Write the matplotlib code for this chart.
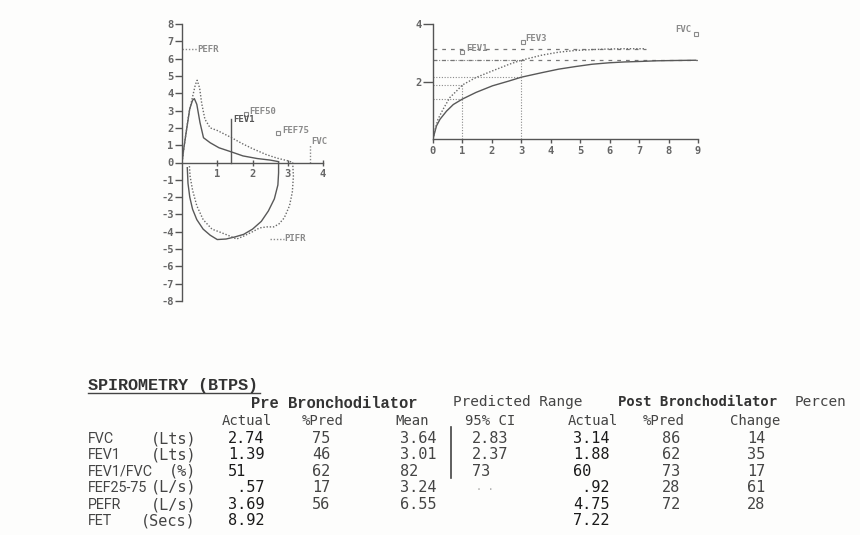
import matplotlib.pyplot as plt
from matplotlib.lines import Line2D

# flow-volume loop, pre bronchodilator (solid)
pre_exp_vol = [0, 0.05, 0.13, 0.22, 0.30, 0.35, 0.42, 0.51, 0.61, 0.80, 1.05, 1.39, 1.73, 2.13, 2.50, 2.74]
pre_exp_flow = [0, 0.8, 1.9, 3.1, 3.6, 3.69, 3.36, 2.31, 1.43, 1.14, 0.85, 0.62, 0.38, 0.23, 0.14, 0.05]
pre_insp_vol = [2.74, 2.74, 2.72, 2.62, 2.45, 2.25, 2.0, 1.75, 1.5, 1.25, 1.0, 0.8, 0.6, 0.42, 0.3, 0.22, 0.17, 0.15]
pre_insp_flow = [0, -0.6, -1.3, -2.1, -2.8, -3.4, -3.85, -4.15, -4.3, -4.42, -4.45, -4.2, -3.85, -3.3, -2.7, -2.0, -1.2, -0.3]

# flow-volume loop, post bronchodilator (dotted)
post_exp_vol = [0, 0.1, 0.2, 0.3, 0.38, 0.43, 0.5, 0.56, 0.65, 0.8, 1.0, 1.39, 1.7, 2.0, 2.4, 2.7, 3.0, 3.14]
post_exp_flow = [0, 1.5, 2.9, 3.8, 4.5, 4.75, 4.3, 3.4, 2.5, 2.0, 1.85, 1.45, 1.1, 0.8, 0.45, 0.25, 0.1, 0]
post_insp_vol = [3.14, 3.16, 3.13, 3.05, 2.9, 2.75, 2.6, 2.4, 2.2, 2.0, 1.75, 1.55, 1.3, 1.05, 0.85, 0.6, 0.42, 0.3, 0.23, 0.21]
post_insp_flow = [0, -0.8, -1.7, -2.5, -3.2, -3.55, -3.72, -3.72, -3.78, -4.0, -4.25, -4.42, -4.2, -4.0, -3.85, -3.3, -2.5, -1.6, -0.8, -0.2]

# volume-time curves
pre_t = [0, 0.05, 0.12, 0.24, 0.46, 0.69, 1.0, 1.46, 2.02, 2.59, 3.0, 3.71, 4.27, 4.84, 5.4, 5.97, 6.5, 7.1, 7.6, 8.2, 8.92]
pre_v = [0, 0.2, 0.46, 0.69, 0.97, 1.2, 1.39, 1.62, 1.85, 2.02, 2.15, 2.31, 2.43, 2.52, 2.6, 2.65, 2.68, 2.7, 2.72, 2.73, 2.74]
post_t = [0, 0.06, 0.17, 0.34, 0.57, 0.8, 1.0, 1.46, 2.02, 2.59, 3.0, 3.71, 4.27, 4.84, 5.4, 5.97, 6.5, 7.22]
post_v = [0, 0.29, 0.69, 1.03, 1.44, 1.67, 1.88, 2.14, 2.37, 2.6, 2.74, 2.92, 3.02, 3.08, 3.11, 3.13, 3.14, 3.14]

# table
row_names = ['FVC', 'FEV1', 'FEV1/FVC', 'FEF25-75', 'PEFR', 'FET']
row_units = ['(Lts)', '(Lts)', '(%)', '(L/s)', '(L/s)', '(Secs)']
pre_actual = ['2.74', '1.39', '51', ' .57', '3.69', '8.92']
pre_pred = ['75', '46', '62', '17', '56', '']
pred_mean = ['3.64', '3.01', '82', '3.24', '6.55', '']
pred_ci = ['2.83', '2.37', '73', '', '', '']
post_actual = ['3.14', '1.88', '60', ' .92', '4.75', '7.22']
post_pred = ['86', '62', '73', '28', '72', '']
post_change = ['14', '35', '17', '61', '28', '']

# predicted markers
pefr_pred = 6.55
fvc_pred = 3.64
fev1_pred = 3.01
fev3_pred = 3.36
fev1_pre = 1.39
fev3_pre = 2.15
fev1_post = 1.88
fev3_post = 2.74
fvc_pre = 2.74
fvc_post = 3.14
fet_pre = 8.92
fet_post = 7.22

W, H = 860, 535
mono = 'DejaVu Sans Mono'
axc = '#555555'
solid_c = '#585858'
dot_c = '#6a6a6a'
lab_c = '#8a8a8a'
dots = (0, (1, 1.3))

fig = plt.figure(figsize=(8.6, 5.35), dpi=100)
fig.patch.set_facecolor('#fdfdfc')


def box(x0, x1, y0, y1):
    # pixel box -> figure fractions
    return [x0 / W, 1 - y1 / H, (x1 - x0) / W, (y1 - y0) / H]


def put(x, y, s, **kw):
    kw.setdefault('family', mono)
    kw.setdefault('size', 11)
    kw.setdefault('color', '#444444')
    fig.text(x / W, 1 - y / H, s, va='baseline', **kw)


def style_ticks(ax):
    for t in ax.get_xticklabels() + ax.get_yticklabels():
        t.set_family(mono)
        t.set_weight('bold')


# ---- flow-volume loop ----
ax1 = fig.add_axes(box(182, 323, 24, 301))
ax1.patch.set_alpha(0)
ax1.set_xlim(0, 4)
ax1.set_ylim(-8, 8)
for s in ['top', 'right']:
    ax1.spines[s].set_visible(False)
ax1.spines['bottom'].set_position(('data', 0))
for s in ['left', 'bottom']:
    ax1.spines[s].set_color(axc)
    ax1.spines[s].set_linewidth(1.0)
yt = list(range(-8, 9))
ax1.set_yticks(yt, labels=[str(v) for v in yt])
ax1.set_xticks([1, 2, 3, 4], labels=['1', '2', '3', '4'])
ax1.tick_params(axis='y', direction='out', length=5, width=1, color=axc, pad=1,
                labelsize=7.5, labelcolor='#666666')
ax1.tick_params(axis='x', direction='inout', length=5, width=1, color=axc, pad=2,
                labelsize=7.5, labelcolor='#666666')
style_ticks(ax1)

ax1.plot(pre_exp_vol, pre_exp_flow, color=solid_c, lw=1)
ax1.plot(pre_insp_vol, pre_insp_flow, color=solid_c, lw=1)
ax1.plot(post_exp_vol, post_exp_flow, color=dot_c, lw=1, ls=dots)
ax1.plot(post_insp_vol, post_insp_flow, color=dot_c, lw=1, ls=dots)

lk = dict(family=mono, size=6.5, weight='bold', color=lab_c, clip_on=False)
ax1.plot([0, 0.42], [pefr_pred, pefr_pred], color=lab_c, lw=1, ls=dots)
ax1.text(0.44, pefr_pred, 'PEFR', va='center', **lk)
ax1.plot([fev1_pre, fev1_pre], [0, 2.5], color=solid_c, lw=1)
ax1.text(fev1_pre + 0.05, 2.5, 'FEV1', va='center', family=mono, size=6.5,
         weight='bold', color='#555555')
ax1.plot([fvc_pred * 0.5], [2.78], marker='s', ms=3, mfc='none', mec=lab_c, mew=0.8)
ax1.text(fvc_pred * 0.5 + 0.1, 2.93, 'FEF50', va='center', **lk)
ax1.plot([fvc_pred * 0.75], [1.68], marker='s', ms=3, mfc='none', mec=lab_c, mew=0.8)
ax1.text(fvc_pred * 0.75 + 0.1, 1.82, 'FEF75', va='center', **lk)
ax1.plot([fvc_pred, fvc_pred], [0, 1.0], color=lab_c, lw=1, ls=dots)
ax1.text(fvc_pred + 0.02, 0.95, 'FVC', va='bottom', **lk)
ax1.plot([2.51, 2.89], [-4.4, -4.4], color=lab_c, lw=1, ls=dots)
ax1.text(2.91, -4.4, 'PIFR', va='center', **lk)

# ---- volume-time curve ----
ax2 = fig.add_axes(box(433, 698, 24, 139))
ax2.patch.set_alpha(0)
ax2.set_xlim(0, 9)
ax2.set_ylim(0, 4)
for s in ['top', 'right']:
    ax2.spines[s].set_visible(False)
for s in ['left', 'bottom']:
    ax2.spines[s].set_color(axc)
    ax2.spines[s].set_linewidth(1.0)
ax2.set_xticks(range(10), labels=[str(v) for v in range(10)])
ax2.set_yticks([2, 4], labels=['2', '4'])
ax2.tick_params(axis='x', direction='out', length=3, width=1, color=axc, pad=2,
                labelsize=7.5, labelcolor='#666666')
ax2.tick_params(axis='y', direction='out', length=7, width=1, color=axc, pad=1,
                labelsize=7.5, labelcolor='#666666')
style_ticks(ax2)

ref = dict(color='#8a8a8a', lw=0.8, ls=(0, (1, 1.5)))
ax2.plot([0, 1], [fev1_pre, fev1_pre], **ref)
ax2.plot([0, 1], [fev1_post, fev1_post], **ref)
ax2.plot([0, 3], [fev3_pre, fev3_pre], **ref)
ax2.plot([0, 3], [fev3_post, fev3_post], **ref)
ax2.plot([1, 1], [0, fev1_post], **ref)
ax2.plot([3, 3], [0, fev3_post], **ref)
ax2.plot([0, 9], [fvc_pre, fvc_pre], color='#777777', lw=0.9, ls=(0, (3, 4)))
ax2.plot([0, fet_post], [fvc_post, fvc_post], color='#777777', lw=0.9, ls=(0, (3, 4)))

ax2.plot(pre_t, pre_v, color=solid_c, lw=1)
ax2.plot(post_t, post_v, color=dot_c, lw=1, ls=dots)

mk = dict(marker='s', ms=3, mfc='none', mec=lab_c, mew=0.8, clip_on=False)
ax2.plot([1], [fev1_pred], **mk)
ax2.text(1.12, fev1_pred - 0.02, 'FEV1', va='bottom', **lk)
ax2.plot([3.04], [fev3_pred], **mk)
ax2.text(3.14, fev3_pred - 0.02, 'FEV3', va='bottom', **lk)
ax2.plot([fet_pre], [fvc_pred], **mk)
ax2.text(fet_pre - 0.15, fvc_pred + 0.02, 'FVC', ha='right', va='bottom', **lk)

# ---- results table ----
put(88, 390, 'SPIROMETRY (BTPS)', family='Liberation Mono', weight='bold', size=12.1,
    color='#333333')
fig.add_artist(Line2D([88 / W, 260 / W], [1 - 393 / H] * 2, color='#444444', lw=1))
put(251, 408, 'Pre Bronchodilator', family='Liberation Mono', weight='bold', size=11.2,
    color='#333333')
put(453, 406, 'Predicted Range', size=10.4)
put(618, 406, 'Post Bronchodilator', weight='bold', size=10, color='#333333')
put(795, 406, 'Percen', size=10.4)

for x, s in [(222, 'Actual'), (302, '%Pred'), (395, 'Mean'), (465, '95% CI'),
             (568, 'Actual'), (643, '%Pred'), (730, 'Change')]:
    put(x, 425, s, size=10)

rows_y = [443, 459, 476, 492, 509, 525]
for i, y in enumerate(rows_y):
    put(88, y, row_names[i], family='Roboto', size=10.3)
    put(196, y, row_units[i], ha='right')
    put(228, y, pre_actual[i], color='#1a1a1a')
    put(312, y, pre_pred[i])
    put(400, y, pred_mean[i])
    put(472, y, pred_ci[i])
    put(573, y, post_actual[i], color='#1a1a1a')
    put(662, y, post_pred[i])
    put(747, y, post_change[i])
put(476, 490, '. .', size=7, color='#aaaaaa')
fig.add_artist(Line2D([451 / W] * 2, [1 - 427 / H, 1 - 478 / H], color='#444444', lw=1.2))

fig.savefig('out.png', dpi=100)
